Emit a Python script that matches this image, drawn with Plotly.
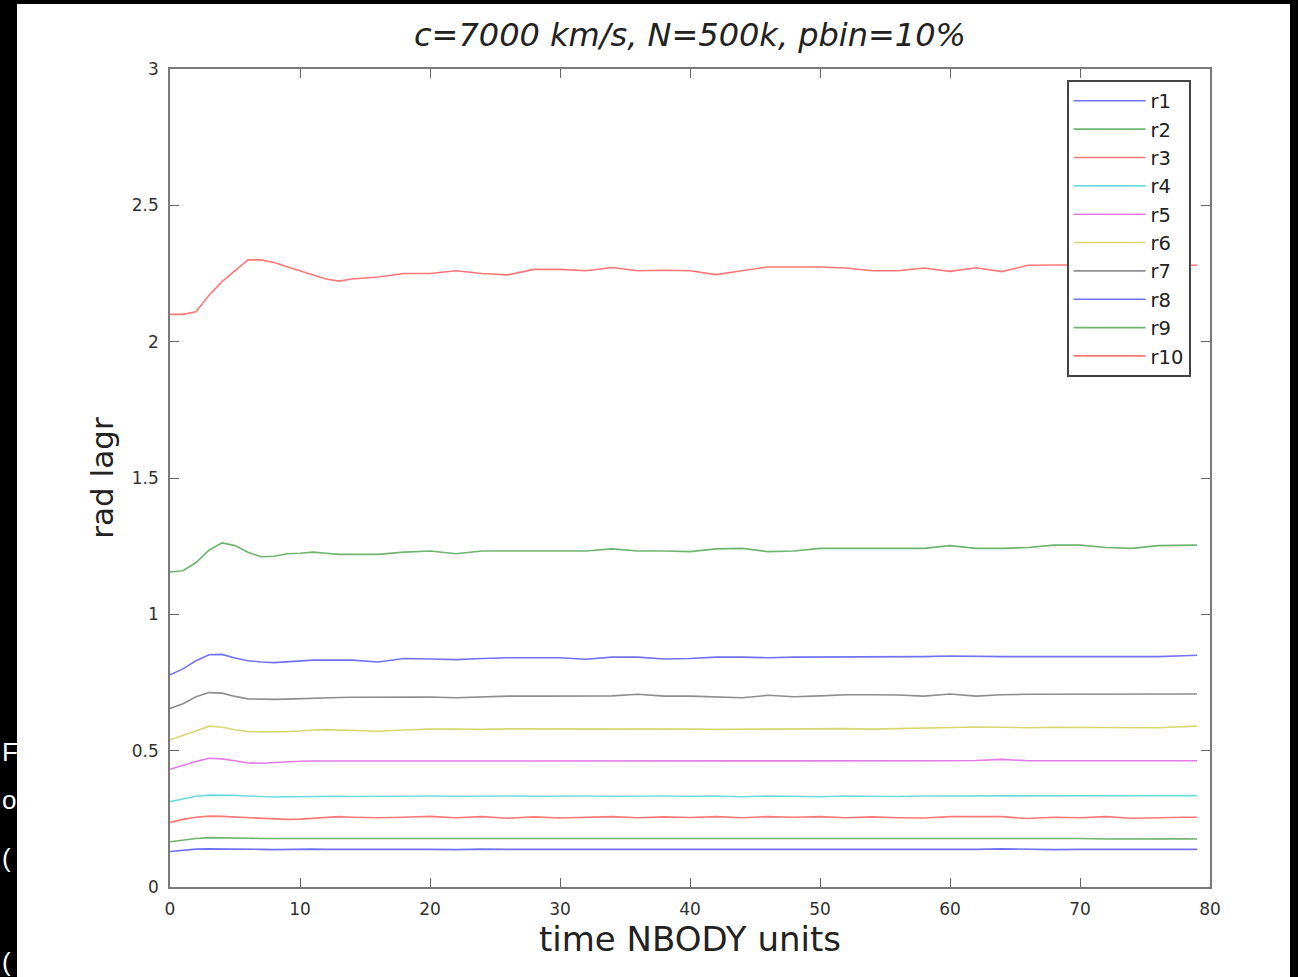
import plotly.graph_objects as go

# time axis (NBODY units)
t = [0, 1, 2, 3, 4, 5, 6, 7, 8, 9, 10, 11, 12, 13, 14,
     16, 18, 20, 22, 24, 26, 28, 30, 32, 34, 36, 38, 40, 42, 44, 46,
     48, 50, 52, 54, 56, 58, 60, 62, 64, 66, 68, 70, 72, 74, 76, 78, 79]

r1 = [0.13, 0.134, 0.139, 0.14, 0.14, 0.139, 0.139, 0.138, 0.137, 0.138, 0.138, 0.139, 0.138, 0.137, 0.138,
      0.138, 0.139, 0.138, 0.137, 0.139, 0.138, 0.138, 0.139, 0.138, 0.138, 0.139, 0.138, 0.137, 0.138, 0.139, 0.138,
      0.138, 0.137, 0.138, 0.139, 0.138, 0.138, 0.137, 0.138, 0.14, 0.138, 0.137, 0.138, 0.138, 0.137, 0.138, 0.138,
      0.138]
r2 = [0.166, 0.172, 0.178, 0.181, 0.181, 0.18, 0.179, 0.178, 0.178, 0.177, 0.178, 0.178, 0.179, 0.178, 0.178,
      0.178, 0.177, 0.178, 0.179, 0.178, 0.177, 0.178, 0.178, 0.179, 0.178, 0.178, 0.177, 0.178, 0.178, 0.179, 0.178,
      0.178, 0.177, 0.178, 0.178, 0.179, 0.178, 0.178, 0.177, 0.178, 0.178, 0.179, 0.178, 0.176, 0.177, 0.178, 0.177,
      0.176]
r3 = [0.237, 0.248, 0.256, 0.26, 0.259, 0.257, 0.255, 0.253, 0.25, 0.248, 0.249, 0.252, 0.256, 0.258, 0.256,
      0.254, 0.256, 0.259, 0.254, 0.258, 0.252, 0.257, 0.253, 0.256, 0.258, 0.254, 0.257, 0.255, 0.258, 0.254, 0.258,
      0.256, 0.258, 0.254, 0.257, 0.254, 0.253, 0.258, 0.257, 0.258, 0.251, 0.256, 0.254, 0.258, 0.252, 0.255, 0.256,
      0.256]
r4 = [0.313, 0.322, 0.333, 0.337, 0.337, 0.336, 0.334, 0.331, 0.33, 0.331, 0.332, 0.331, 0.333, 0.333, 0.332,
      0.333, 0.334, 0.334, 0.333, 0.334, 0.334, 0.333, 0.334, 0.334, 0.333, 0.334, 0.334, 0.333, 0.334, 0.331, 0.334,
      0.333, 0.331, 0.334, 0.333, 0.332, 0.334, 0.334, 0.334, 0.333, 0.334, 0.334, 0.334, 0.333, 0.334, 0.334, 0.334,
      0.335]
r5 = [0.432, 0.447, 0.46, 0.472, 0.47, 0.463, 0.455, 0.454, 0.457, 0.46, 0.461, 0.462, 0.462, 0.462, 0.462,
      0.462, 0.462, 0.462, 0.462, 0.461, 0.462, 0.462, 0.462, 0.463, 0.462, 0.462, 0.463, 0.462, 0.461, 0.462, 0.463,
      0.462, 0.462, 0.463, 0.462, 0.463, 0.462, 0.463, 0.464, 0.468, 0.463, 0.463, 0.463, 0.463, 0.463, 0.463, 0.463,
      0.463]
r6 = [0.54, 0.555, 0.572, 0.59, 0.586, 0.577, 0.57, 0.569, 0.569, 0.57, 0.572, 0.576, 0.577, 0.576, 0.574,
      0.571, 0.576, 0.579, 0.579, 0.578, 0.58, 0.58, 0.581, 0.581, 0.581, 0.581, 0.581, 0.579, 0.578, 0.579, 0.58,
      0.579, 0.58, 0.581, 0.579, 0.581, 0.584, 0.585, 0.587, 0.586, 0.584, 0.586, 0.586, 0.584, 0.586, 0.584, 0.588,
      0.59]
r7 = [0.655, 0.672, 0.698, 0.713, 0.711, 0.699, 0.69, 0.688, 0.688, 0.689, 0.691, 0.693, 0.694, 0.695, 0.696,
      0.697, 0.698, 0.697, 0.694, 0.698, 0.7, 0.7, 0.7, 0.7, 0.701, 0.707, 0.7, 0.7, 0.698, 0.694, 0.703,
      0.698, 0.701, 0.705, 0.705, 0.704, 0.7, 0.708, 0.7, 0.705, 0.707, 0.707, 0.707, 0.707, 0.707, 0.707, 0.707,
      0.708]
r8 = [0.778, 0.8, 0.83, 0.852, 0.853, 0.84, 0.83, 0.825, 0.823, 0.826, 0.83, 0.832, 0.832, 0.832, 0.832,
      0.825, 0.838, 0.836, 0.834, 0.838, 0.841, 0.841, 0.841, 0.835, 0.843, 0.843, 0.836, 0.838, 0.843, 0.843, 0.841,
      0.843, 0.843, 0.843, 0.843, 0.843, 0.845, 0.847, 0.845, 0.845, 0.845, 0.845, 0.845, 0.845, 0.846, 0.845, 0.848,
      0.85]
r9 = [1.155, 1.16, 1.19, 1.235, 1.262, 1.252, 1.228, 1.211, 1.213, 1.222, 1.224, 1.228, 1.224, 1.22, 1.22,
      1.22, 1.228, 1.232, 1.222, 1.232, 1.232, 1.232, 1.232, 1.232, 1.24, 1.232, 1.232, 1.23, 1.24, 1.242, 1.23,
      1.232, 1.242, 1.242, 1.242, 1.242, 1.242, 1.252, 1.242, 1.242, 1.245, 1.254, 1.254, 1.245, 1.242, 1.252, 1.254,
      1.254]
r10 = [2.10, 2.10, 2.11, 2.17, 2.22, 2.26, 2.30, 2.30, 2.29, 2.275, 2.26, 2.245, 2.23, 2.222, 2.23,
       2.237, 2.25, 2.25, 2.26, 2.25, 2.245, 2.265, 2.265, 2.26, 2.272, 2.26, 2.262, 2.26, 2.246, 2.26, 2.274,
       2.274, 2.274, 2.27, 2.26, 2.26, 2.27, 2.258, 2.271, 2.257, 2.28, 2.281, 2.28, 2.28, 2.28, 2.28, 2.28,
       2.28]

names = ["r1", "r2", "r3", "r4", "r5", "r6", "r7", "r8", "r9", "r10"]
series = [r1, r2, r3, r4, r5, r6, r7, r8, r9, r10]
colors = ["#7272f5", "#6fb46f", "#ff7878", "#6fdcdc", "#e47ae4",
          "#d8d872", "#8e8e8e", "#7272f5", "#6fb46f", "#ff7878"]

for s in series:
    assert len(s) == len(t), len(s)

fig = go.Figure()
for nm, ys, c in zip(names, series, colors):
    fig.add_trace(go.Scatter(x=t, y=ys, mode="lines", name=nm,
                             line=dict(color=c, width=1.6)))

W, H = 1298, 977
L, R, T, B = 170, 1210, 69, 887
pw, ph = R - L, B - T

def px(xp):
    return (xp - L) / pw

def py(yp):
    return (B - yp) / ph

FONT = "DejaVu Sans, sans-serif"

axis_common = dict(showline=True, linecolor="#7a7a7a", linewidth=1.6, mirror="ticks",
                   ticks="inside", ticklen=9, tickwidth=1.4, tickcolor="#666666",
                   showgrid=False, zeroline=False,
                   tickfont=dict(family=FONT, size=17, color="#333333"))

fig.update_layout(
    width=W, height=H, autosize=False,
    margin=dict(l=L, r=W - R, t=T, b=H - B, pad=0),
    paper_bgcolor="black", plot_bgcolor="white",
    title=dict(text="c=7000 km/s, N=500k, pbin=10%",
               font=dict(family=FONT, size=32, color="#222222", style="italic"),
               x=0.5, xref="paper", xanchor="center",
               y=1 - 35 / H, yref="container", yanchor="middle"),
    xaxis=dict(range=[0, 80], tickvals=[0, 10, 20, 30, 40, 50, 60, 70, 80],
               ticklabelstandoff=6,
               title=dict(text="time NBODY units", standoff=9,
                          font=dict(family=FONT, size=34, color="#222222")),
               **axis_common),
    yaxis=dict(range=[0, 3], tickvals=[0, 0.5, 1, 1.5, 2, 2.5, 3],
               ticktext=["0", "0.5", "1", "1.5", "2", "2.5", "3"],
               ticklabelstandoff=6,
               title=dict(text="rad lagr", standoff=9,
                          font=dict(family=FONT, size=31, color="#222222")),
               **axis_common),
    legend=dict(x=px(1067), y=py(80), xanchor="left", yanchor="top",
                bgcolor="white", bordercolor="#444444", borderwidth=1.6,
                font=dict(family=FONT, size=19.5, color="#222222"),
                itemwidth=72, tracegroupgap=0),
    showlegend=True,
)

# white slide panel behind the figure
fig.add_shape(type="rect", xref="paper", yref="paper", layer="below",
              x0=px(17), x1=px(1290), y0=py(H + 5), y1=py(4),
              fillcolor="white", line=dict(width=0))

# fragments of slide text visible at the left edge (the part over the panel is white on white)
for txt, yc in [("F)", 752), ("ou", 800), ("(", 858), ("(", 962)]:
    fig.add_annotation(text=txt, xref="paper", yref="paper", x=px(0), y=py(yc),
                       xanchor="left", yanchor="middle", showarrow=False,
                       font=dict(family="Liberation Sans, Arial, sans-serif", size=26, color="white"))

fig.write_html("out.html", config={"displayModeBar": False},
               post_script="document.body.style.margin='0px';")
